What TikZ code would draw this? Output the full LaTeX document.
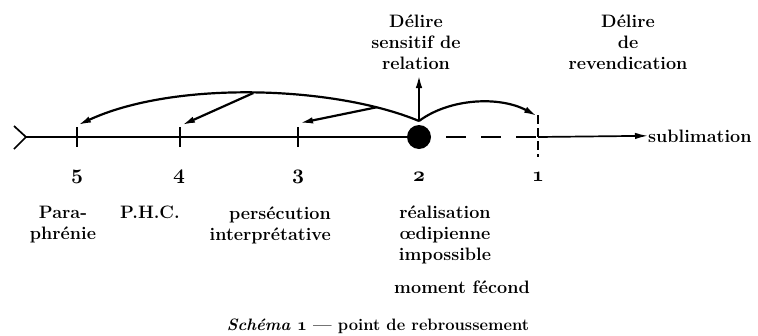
\documentclass[tikz,border=0pt]{standalone}
\usetikzlibrary{arrows.meta}
\newcommand{\bnum}[1]{{\usefont{OML}{cmm}{b}{it}#1}}
\begin{document}
\begin{tikzpicture}[x=1pt,y=-1pt,
  font=\fontsize{18}{21}\selectfont\bfseries,
  lbl/.style={inner sep=0pt, align=center},
  num/.style={inner sep=0pt, font=\fontsize{20}{20}\selectfont},
  axisline/.style={line width=1.7pt},
  tickline/.style={line width=1.7pt},
  curve/.style={line width=2.2pt, -{Latex[length=13pt,width=6.5pt]}},
  plain/.style={line width=2pt}]
\useasboundingbox (0,0) rectangle (758,335);

% axis points
\coordinate (f1) at (14,126);
\coordinate (fa) at (26,137);
\coordinate (f2) at (14,149);
\coordinate (t5) at (77,137);
\coordinate (t4) at (180,137);
\coordinate (t3) at (298,137);
\coordinate (t1) at (538,137);
\node[circle, fill, minimum size=24pt, inner sep=0pt] (dot) at (419,137) {};
\node[lbl, anchor=base west] (sub) at (648,142) {sublimation};

% axis
\draw[axisline] (f1) -- (fa) -- (f2);
\draw[axisline] (fa) -- (dot);
\draw[axisline, dash pattern=on 20pt off 15pt, dash phase=20pt] (dot) -- (t1);
\draw[axisline, -{Latex[length=13pt,width=6.5pt]}] (t1) -- (sub.west);

% ticks
\foreach \t in {t5,t4,t3}{
  \draw[tickline] ([yshift=10pt]\t) -- ([yshift=-10pt]\t);
}
\draw[tickline, dash pattern=on 9pt off 4pt] ([yshift=22pt]t1) -- ([yshift=-20pt]t1);

% curves
\coordinate (cusp) at (419,121);
\coordinate (a5) at (78,125);
\coordinate (a4) at (182,125);
\coordinate (a3) at (300,123);
\coordinate (a1) at (537,116);
\coordinate (vtip) at (419,75);
\draw[curve] (cusp) .. controls (335,86) and (175,80) .. (a5)
  coordinate[pos=0.5] (b4) coordinate[pos=0.15] (b3);
\draw[curve] (b4) -- (a4);
\draw[curve] (b3) -- (a3);
\draw[curve] (cusp) .. controls (450,98) and (500,96) .. (a1);
\draw[curve] (cusp) -- (vtip);

% top labels
\node[lbl] (sens) at (416,42) {Délire\\sensitif de\\relation};
\node[lbl] (rev) at (628,42) {Délire\\de\\revendication};

% numbers
\node[num] (n5) at (77,177) {\bnum{5}};
\node[num] (n4) at (179,177) {\bnum{4}};
\node[num] (n3) at (298,177) {\bnum{3}};
\node[num] (n2) at (419,177) {\bnum{2}};
\node[num] (n1) at (538,177) {\bnum{1}};

% bottom labels
\node[lbl] (para) at (63,225) {Para-\\phrénie};
\node[lbl] (phc) at (150,212) {P.H.C.};
\node[lbl, align=right, anchor=east] (pers) at (331,225) {persécution\\interprétative};
\node[lbl] (real) at (445,235) {réalisation\\œdipienne\\impossible};
\node[lbl] (mom) at (462,287) {moment fécond};

% caption
\node[lbl, font=\fontsize{16.5}{20}\selectfont\bfseries] (cap) at (378,326) {{\itshape Schéma \bnum{1}} --- point de rebroussement};
\end{tikzpicture}
\end{document}
